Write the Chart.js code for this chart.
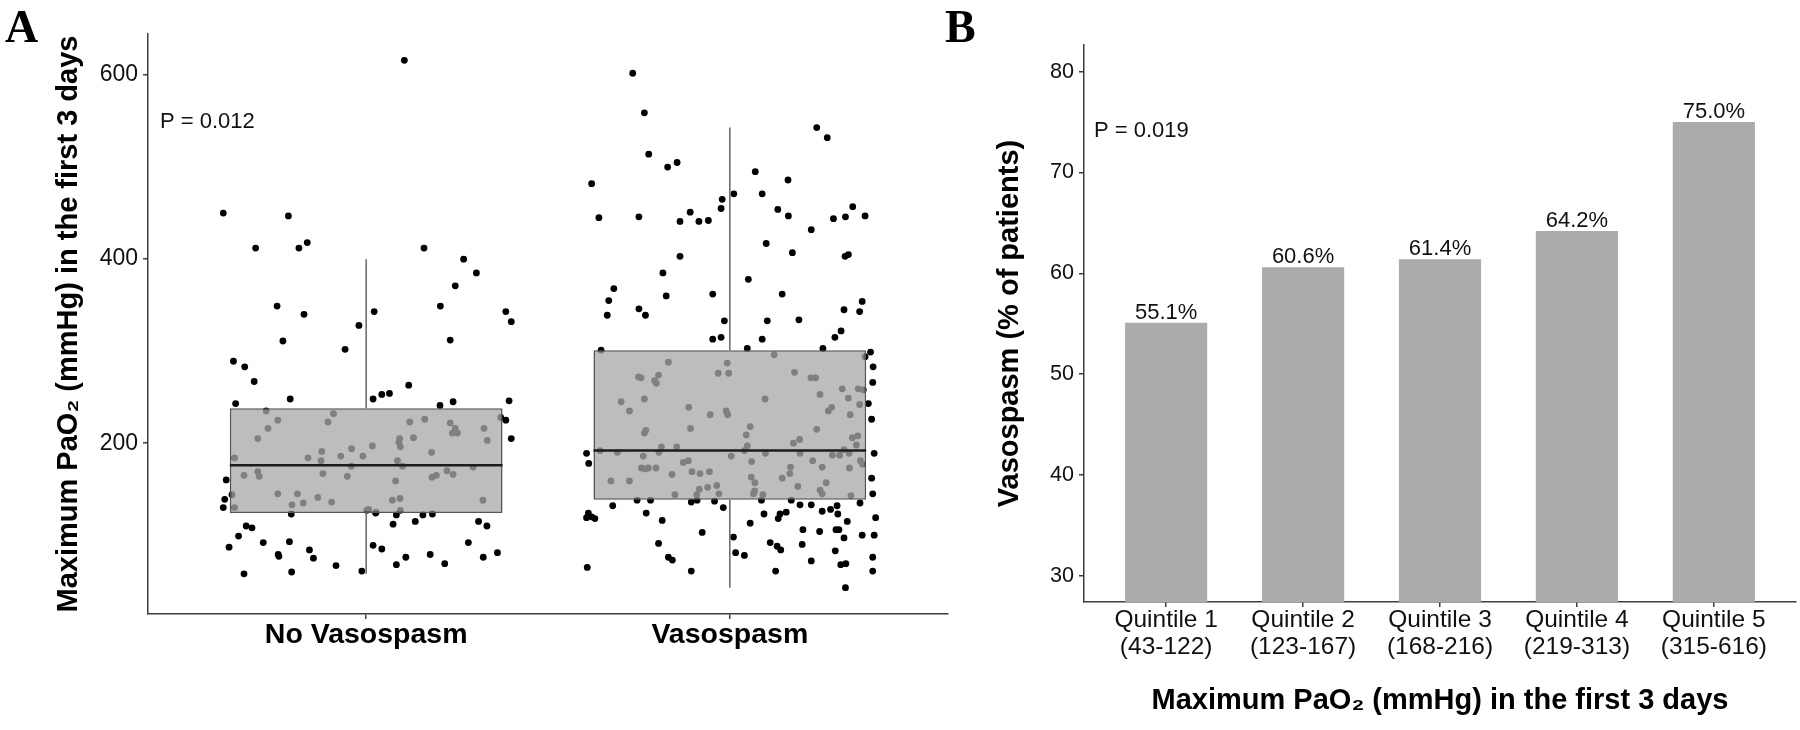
<!DOCTYPE html>
<html><head><meta charset="utf-8">
<script src="https://cdn.jsdelivr.net/npm/chart.js@4.4.1/dist/chart.umd.min.js"></script>
<style>
html,body{margin:0;padding:0;background:#fff;}
#wrap{position:relative;width:1800px;height:730px;overflow:hidden;background:#fff;}
#panelA{position:absolute;left:0;top:0;width:960px;height:730px;}
#panelB{position:absolute;left:960px;top:0;width:840px;height:730px;}
.tag{position:absolute;top:4px;font:bold 46px/46px 'Liberation Serif','Times New Roman',serif;color:#000;z-index:2;}
</style></head><body>
<div id="wrap">
<div id="panelA"><canvas id="chartA" width="960" height="730"></canvas></div>
<div id="panelB"><canvas id="chartB" width="840" height="730"></canvas></div>
<div class="tag" style="left:5px">A</div>
<div class="tag" style="left:945px">B</div>
</div>
<script>
// ---------- Panel A data ----------
const categoriesA = ['No Vasospasm', 'Vasospasm'];
const yTicksA = [200, 400, 600];
const pValueA = 'P = 0.012';

const noVasoJitter = [0.105,-0.393,-0.214,-0.304,-0.185,-0.162,0.159,0.268,0.303,0.245,0.204,0.231,-0.245,-0.171,0.022,-0.02,-0.229,-0.058,-0.365,-0.334,0.384,0.399,-0.308,-0.359,-0.209,0.019,0.043,0.064,0.117,0.203,0.239,-0.385,-0.389,-0.393,-0.206,-0.33,-0.314,-0.351,-0.377,-0.283,-0.211,-0.242,-0.24,-0.156,-0.145,-0.336,-0.205,-0.083,-0.012,0.026,0.083,0.074,0.135,0.156,0.182,0.019,0.043,0.083,0.109,0.176,0.216,0.281,0.309,0.332,0.322,0.361,0.393,0.384,0.399,
  -0.275,-0.243,-0.27,-0.298,-0.362,-0.336,-0.298,-0.294,-0.369,-0.362,-0.243,-0.204,-0.189,-0.173,-0.133,-0.095,-0.119,-0.16,-0.124,-0.122,-0.105,-0.09,-0.07,-0.04,-0.041,-0.052,-0.009,0.017,0.007,0.002,0.027,0.072,0.093,0.094,0.081,0.086,0.1,0.094,0.09,0.092,0.13,0.12,0.161,0.18,0.181,0.193,0.222,0.239,0.231,0.245,0.237,0.251,0.294,0.324,0.333,0.321,0.37];
const noVasoValues = [616,450,447,412,412,418,412,400,385,371,349,312,349,340,343,328,311,302,289,283,343,332,267,243,248,248,253,254,263,241,245,160,139,130,123,110,108,99,87,92,93,79,77,84,75,58,60,67,61,124,122,112,115,122,123,89,85,68,76,79,69,92,115,110,76,81,246,225,205,
  235,225,216,205,184,165,169,164,144,130,145,133,145,135,141,136,167,184,181,191,223,232,186,194,175,164,186,197,128,127,125,138,140,127,159,181,175,196,201,205,206,223,226,190,163,165,170,166,222,216,211,211,174,216,203,138,228];

const vasoJitter = [-0.267,-0.235,-0.223,-0.171,-0.145,-0.380,-0.360,-0.25,-0.137,-0.109,-0.085,-0.059,-0.021,-0.024,0.011,0.070,0.160,0.089,0.132,0.161,0.239,0.268,0.285,0.318,0.338,0.372,0.224,0.100,0.172,0.317,0.326,-0.137,-0.184,-0.319,-0.333,-0.337,-0.175,-0.25,-0.232,-0.047,0.051,0.144,-0.015,0.103,0.190,0.314,0.357,0.364,0.306,0.289,-0.047,-0.024,0.089,0.048,0.256,0.387,
  0.394,0.393,0.381,0.39,0.397,0.39,0.393,0.358,0.401,0.397,0.364,0.393,0.393,0.318,0.319,0.305,0.29,0.314,0.292,0.3,0.323,0.297,0.295,0.277,0.254,0.224,0.193,0.169,0.087,0.201,0.247,0.199,0.224,0.155,0.138,0.133,0.094,0.056,0.111,0.13,0.14,0.126,0.01,0.016,0.04,-0.018,-0.042,-0.076,-0.106,-0.09,-0.106,-0.186,-0.196,-0.169,-0.158,-0.23,-0.255,-0.218,-0.322,-0.394,-0.388,-0.389,-0.394,-0.38,-0.371,-0.392,
  -0.354,-0.169,-0.251,-0.244,-0.196,-0.207,-0.202,-0.299,-0.235,-0.276,-0.113,-0.054,-0.01,-0.006,-0.032,-0.007,-0.003,0.122,0.097,0.178,0.223,0.236,0.248,0.309,0.326,0.353,0.367,0.357,0.271,0.28,0.331,0.372,0.239,0.337,0.352,0.348,0.175,0.192,-0.235,-0.231,-0.108,0.056,0.045,0.048,-0.188,-0.195,-0.146,-0.357,-0.309,-0.238,-0.243,-0.232,-0.224,-0.203,-0.327,-0.276,-0.159,-0.128,-0.114,-0.104,-0.082,-0.056,-0.151,-0.091,-0.084,-0.061,-0.036,-0.030,0.004,0.04,0.06,0.098,0.059,0.069,0.068,0.065,0.091,0.144,0.167,0.165,0.187,0.193,0.228,0.254,0.265,0.248,0.254,0.282,0.302,0.328,0.329,0.359,0.365,0.333,0.314];
const vasoValues = [602,559,514,500,505,482,445,446,441,451,441,442,465,455,471,495,486,471,454,447,543,532,444,446,457,447,432,417,407,403,405,403,385,368,355,339,360,346,339,362,378,362,333,333,334,345,343,354,322,315,313,315,313,303,303,299,
  283,266,243,226,189,162,145,135,119,100,100,76,61,43,69,68,83,97,106,106,115,123,132,128,126,133,133,138,138,106,104,90,72,125,123,118,123,113,92,88,84,61,98,81,78,130,137,103,61,138,136,116,91,76,73,124,138,138,132,189,178,124,119,120,118,65,
  301,288,272,271,274,268,265,245,248,235,239,231,235,231,276,287,276,296,248,277,271,271,253,259,249,259,258,242,235,239,231,294,215,206,208,198,200,204,211,214,216,218,209,197,196,190,196,192,190,186,173,172,173,173,159,159,166,179,181,169,167,169,144,144,150,152,154,145,186,192,180,189,163,157,148,145,144,162,174,167,153,189,181,174,157,149,145,187,187,189,173,181,177,143,193];

const boxQ1 = [124, 138.5];
const boxMedian = [176, 192];
const boxQ3 = [238, 301];
const whiskerLow = [58, 43];
const whiskerHigh = [400, 543];

// ---------- Panel B data ----------
const quintileNames = ['Quintile 1', 'Quintile 2', 'Quintile 3', 'Quintile 4', 'Quintile 5'];
const quintileRanges = ['(43-122)', '(123-167)', '(168-216)', '(219-313)', '(315-616)'];
const vasospasmPct = [55.1, 60.6, 61.4, 64.2, 75.0];
const yTicksB = [30, 40, 50, 60, 70, 80];
const pValueB = 'P = 0.019';

// ---------- styling ----------
const FONT = "'Liberation Sans', Arial, Helvetica, sans-serif";
Chart.defaults.font.family = FONT;
Chart.defaults.color = '#111';
const AXIS_COLOR = '#3d3d3d';
const BOX_WIDTH = 0.75;
const X_TITLE = 'Maximum PaO\u2082 (mmHg) in the first 3 days';

const pTextPlugin = {
  id: 'pText',
  afterDraw(chart, args, opts) {
    const { ctx, scales: { x, y } } = chart;
    ctx.save();
    ctx.font = opts.font;
    ctx.fillStyle = '#111';
    ctx.textAlign = 'left';
    ctx.textBaseline = 'middle';
    ctx.fillText(opts.text, x.getPixelForValue(opts.x), y.getPixelForValue(opts.y));
    ctx.restore();
  }
};

const barLabelPlugin = {
  id: 'barLabels',
  afterDatasetsDraw(chart, args, opts) {
    const { ctx } = chart;
    const meta = chart.getDatasetMeta(0);
    ctx.save();
    ctx.font = opts.font;
    ctx.fillStyle = '#111';
    ctx.textAlign = 'center';
    ctx.textBaseline = 'alphabetic';
    meta.data.forEach((el, i) => {
      ctx.fillText(vasospasmPct[i].toFixed(1) + '%', el.x, el.y - 4);
    });
    ctx.restore();
  }
};

function axisGrid() {
  return { drawOnChartArea: false, drawTicks: true, tickLength: 5, color: AXIS_COLOR, lineWidth: 1.5, offset: false };
}
function axisBorder() {
  return { display: true, color: AXIS_COLOR, width: 1.5 };
}

// ---------- Panel A datasets ----------
const pointsA = [];
noVasoValues.forEach((v, i) => pointsA.push({ x: 1 + noVasoJitter[i], y: v }));
vasoValues.forEach((v, i) => pointsA.push({ x: 2 + vasoJitter[i], y: v }));

const datasetsA = [{
  type: 'scatter',
  data: pointsA,
  backgroundColor: '#000',
  borderColor: '#000',
  borderWidth: 0,
  pointRadius: 3.4,
  order: 4
}];
categoriesA.forEach((c, i) => {
  const cx = i + 1;
  datasetsA.push({
    type: 'line', data: [{ x: cx, y: boxQ3[i] }, { x: cx, y: whiskerHigh[i] }],
    borderColor: '#707070', borderWidth: 1.6, pointRadius: 0, fill: false, order: 3
  });
  datasetsA.push({
    type: 'line', data: [{ x: cx, y: whiskerLow[i] }, { x: cx, y: boxQ1[i] }],
    borderColor: '#707070', borderWidth: 1.6, pointRadius: 0, fill: false, order: 3
  });
  datasetsA.push({
    type: 'line', data: [{ x: cx - BOX_WIDTH / 2, y: boxMedian[i] }, { x: cx + BOX_WIDTH / 2, y: boxMedian[i] }],
    borderColor: '#1c1c1c', borderWidth: 2.6, pointRadius: 0, fill: false, order: 1
  });
});
datasetsA.push({
  type: 'bar',
  data: categoriesA.map((c, i) => ({ x: i + 1, y: [boxQ1[i], boxQ3[i]] })),
  backgroundColor: 'rgba(168,168,168,0.76)',
  borderColor: '#555555',
  borderWidth: 1.6,
  borderSkipped: false,
  barPercentage: BOX_WIDTH,
  categoryPercentage: 1,
  order: 2
});

new Chart(document.getElementById('chartA'), {
  type: 'scatter',
  data: { datasets: datasetsA },
  plugins: [pTextPlugin],
  options: {
    responsive: false,
    animation: false,
    devicePixelRatio: 1,
    events: [],
    layout: { padding: { left: 0, top: 34, right: 12, bottom: 0 } },
    plugins: {
      legend: { display: false },
      tooltip: { enabled: false },
      pText: { text: pValueA, x: 0.433, y: 549, font: '22px ' + FONT }
    },
    scales: {
      x: {
        type: 'linear', min: 0.4, max: 2.6, offset: false,
        afterBuildTicks: (s) => { s.ticks = categoriesA.map((c, i) => ({ value: i + 1 })); },
        afterFit: (s) => { s.height = 116; },
        ticks: {
          callback: (v) => categoriesA[Math.round(v) - 1] || '',
          font: { size: 28.5, weight: 'bold', lineHeight: 1.1 },
          color: '#000', padding: 0, autoSkip: false, maxRotation: 0
        },
        grid: axisGrid(),
        border: axisBorder()
      },
      y: {
        type: 'linear', min: 14.35, max: 644.65,
        afterBuildTicks: (s) => { s.ticks = yTicksA.map(v => ({ value: v })); },
        afterFit: (s) => { s.width = 148; },
        ticks: { font: { size: 23 }, color: '#111', padding: 5 },
        grid: axisGrid(),
        border: axisBorder(),
        title: {
          display: true, text: X_TITLE, color: '#000',
          font: { size: 29, weight: 'bold', lineHeight: 1.2 },
          padding: { top: 52, bottom: 0 }
        }
      }
    }
  }
});

// ---------- Panel B ----------
new Chart(document.getElementById('chartB'), {
  type: 'bar',
  data: {
    datasets: [{
      data: vasospasmPct.map((v, i) => ({ x: i + 1, y: v })),
      backgroundColor: '#ababab',
      borderWidth: 0,
      barPercentage: 0.6,
      categoryPercentage: 1
    }]
  },
  plugins: [pTextPlugin, barLabelPlugin],
  options: {
    responsive: false,
    animation: false,
    devicePixelRatio: 1,
    events: [],
    layout: { padding: { left: 0, top: 45, right: 4, bottom: 0 } },
    plugins: {
      legend: { display: false },
      tooltip: { enabled: false },
      pText: { text: pValueB, x: 0.473, y: 74.1, font: '22px ' + FONT },
      barLabels: { font: '22px ' + FONT }
    },
    scales: {
      x: {
        type: 'linear', min: 0.4, max: 5.6, offset: false,
        afterBuildTicks: (s) => { s.ticks = quintileNames.map((c, i) => ({ value: i + 1 })); },
        afterFit: (s) => { s.height = 128; },
        ticks: {
          callback: (v) => { const k = Math.round(v) - 1; return [quintileNames[k], quintileRanges[k]]; },
          font: { size: 24.5, lineHeight: 1.09 },
          color: '#111', padding: 0, autoSkip: false, maxRotation: 0
        },
        grid: axisGrid(),
        border: axisBorder(),
        title: {
          display: true, text: X_TITLE, color: '#000',
          font: { size: 29, weight: 'bold', lineHeight: 1.2 },
          padding: { top: 0, bottom: 12 }
        }
      },
      y: {
        type: 'linear', min: 27.4, max: 82.65,
        afterBuildTicks: (s) => { s.ticks = yTicksB.map(v => ({ value: v })); },
        afterFit: (s) => { s.width = 124; },
        ticks: { font: { size: 21.6 }, color: '#111', padding: 5 },
        grid: axisGrid(),
        border: axisBorder(),
        title: {
          display: true, text: 'Vasospasm (% of patients)', color: '#000',
          font: { size: 29, weight: 'bold', lineHeight: 1.2 },
          padding: { top: 33, bottom: 0 }
        }
      }
    }
  }
});
</script>
</body></html>
